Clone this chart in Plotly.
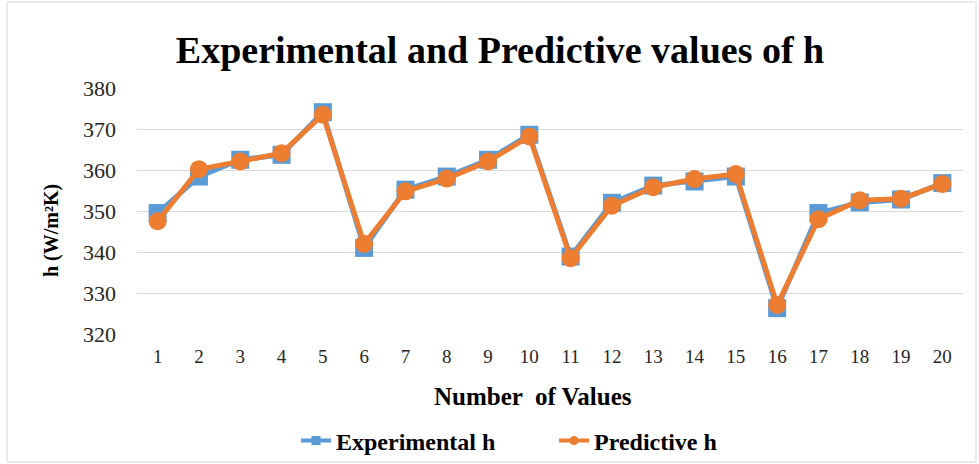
import plotly.graph_objects as go

categories = [str(i) for i in range(1, 21)]
experimental_h = [349.5, 358.4, 362.5, 363.7, 374.1, 341.0, 355.2, 358.4, 362.5, 368.6,
                  338.9, 352.0, 356.2, 357.2, 358.4, 326.3, 349.5, 352.1, 352.8, 356.8]
predictive_h = [347.5, 360.2, 362.1, 364.1, 373.5, 342.0, 354.8, 357.9, 362.1, 368.2,
                338.5, 351.3, 355.8, 357.8, 359.0, 327.1, 348.0, 352.6, 353.0, 356.6]
y_ticks = [320, 330, 340, 350, 360, 370, 380]

serif = "Liberation Serif, Times New Roman, serif"
blue = "#5B9BD5"
orange = "#ED7D31"

W, H = 979, 464
L, R, T, B = 137, 16, 88, 130
PW, PH = W - L - R, H - T - B


def px_x(p):
    return (p - L) / PW


def px_y(p):
    return (H - B - p) / PH


fig = go.Figure()
fig.add_trace(go.Scatter(
    x=categories, y=experimental_h, mode="lines+markers", name="Experimental h",
    line=dict(color=blue, width=5), showlegend=False,
    marker=dict(symbol="square", size=18, color=blue),
))
fig.add_trace(go.Scatter(
    x=categories, y=predictive_h, mode="lines+markers", name="Predictive h",
    line=dict(color=orange, width=5), showlegend=False,
    marker=dict(symbol="circle", size=18, color=orange),
))
# legend-only entries with small markers, like the reference legend
fig.add_trace(go.Scatter(
    x=[None], y=[None], mode="lines+markers", name="<b>Experimental h</b>",
    line=dict(color=blue, width=4), marker=dict(symbol="square", size=9, color=blue),
))
fig.add_trace(go.Scatter(
    x=[None], y=[None], mode="lines+markers", name="<b>Predictive h</b>",
    line=dict(color=orange, width=4), marker=dict(symbol="circle", size=9, color=orange),
))

fig.update_layout(
    width=W, height=H,
    margin=dict(l=L, r=R, t=T, b=B, autoexpand=False),
    paper_bgcolor="white", plot_bgcolor="white",
    title=dict(text="<b>Experimental and Predictive values of h</b>",
               x=500 / W, xanchor="center", y=1 - 50 / H, yanchor="middle",
               font=dict(family=serif, size=38, color="black")),
    xaxis=dict(
        type="category", range=[-0.5, 19.5], automargin=False,
        tickfont=dict(family=serif, size=19, color="#262626"),
        showgrid=False, showline=False, zeroline=False, ticks="",
        ticklabelstandoff=9,
    ),
    yaxis=dict(
        range=[320, 380], tickvals=y_ticks, automargin=False,
        tickfont=dict(family=serif, size=22, color="#262626"),
        showgrid=True, gridcolor="#d9d9d9", gridwidth=1.3, zeroline=False, showline=False,
        ticks="", ticklabelstandoff=20,
    ),
    legend=dict(orientation="h", x=px_x(296), xanchor="left", y=px_y(441), yanchor="middle",
                font=dict(family=serif, size=24, color="black"),
                bgcolor="rgba(0,0,0,0)",
                entrywidth=213, entrywidthmode="pixels"),
    showlegend=True,
    annotations=[
        dict(text="<b>Number  of Values</b>", xref="paper", yref="paper",
             x=px_x(533), y=px_y(396), xanchor="center", yanchor="middle", showarrow=False,
             font=dict(family=serif, size=25, color="black")),
        dict(text="<b>h (W/m²K)</b>", xref="paper", yref="paper", textangle=-90,
             x=px_x(51), y=px_y(231), xanchor="center", yanchor="middle", showarrow=False,
             font=dict(family=serif, size=20, color="black")),
    ],
)
fig.update_traces(cliponaxis=False)

fig.add_shape(type="rect", xref="paper", yref="paper",
              x0=px_x(7), x1=px_x(976), y0=px_y(462), y1=px_y(2),
              line=dict(color="#d9d9d9", width=1))

fig.write_html("out.html", config={"displayModeBar": False},
               post_script="document.body.style.margin='0';")
